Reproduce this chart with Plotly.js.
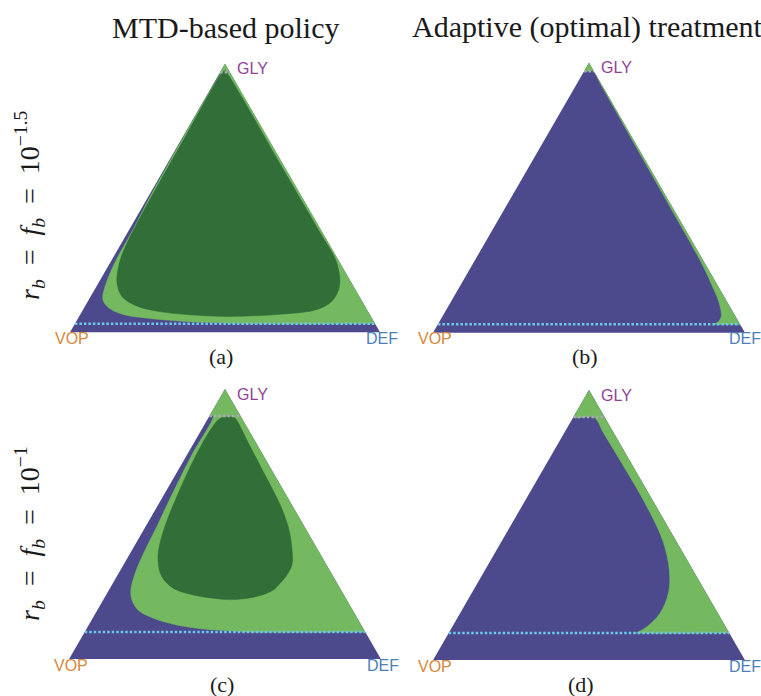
<!DOCTYPE html>
<html>
<head>
<meta charset="utf-8">
<script src="https://cdn.plot.ly/plotly-3.0.1.min.js"></script>
<style>html,body{margin:0;padding:0;background:#fff;}#chart{width:761px;height:696px;}</style>
</head>
<body>
<div id="chart"></div>
<script>
// ---- data: region boundaries as (GLY fraction, DEF fraction); VOP = remainder ----
const thresholds = [0.0316, 0.1];           // r_b = f_b = 10^-1.5 and 10^-1
const rowLabels = ["10<sup>\u22121.5</sup>", "10<sup>\u22121</sup>"];
const colTitles = ["MTD-based policy", "Adaptive (optimal) treatment"];
const panelTags = ["(a)", "(b)", "(c)", "(d)"];
const cornerNames = ["GLY", "VOP", "DEF"];

// panel (a): MTD, 10^-1.5
const aLightGLY = [1, 0.968, 0.968, 0.9, 0.7, 0.5, 0.381, 0.259, 0.17, 0.122, 0.093, 0.067, 0.052, 0.041, 0.035, 0.0316, 0.0316, 0.0316, 0.045, 1];
const aLightDEF = [0, 0, 0.002, 0.002, 0.003, 0.006, 0.012, 0.015, 0.028, 0.045, 0.076, 0.135, 0.226, 0.341, 0.45, 0.55, 0.955, 0.9684, 0.955, 0];
const aDarkGLY = [0.059, 0.0667, 0.085, 0.115, 0.17, 0.259, 0.381, 0.616, 0.863, 0.96, 0.975, 0.955, 0.9, 0.76, 0.59, 0.44, 0.33, 0.28, 0.233, 0.185, 0.133, 0.096, 0.074, 0.063, 0.059];
const aDarkDEF = [0.486, 0.643, 0.755, 0.787, 0.784, 0.731, 0.611, 0.375, 0.129, 0.03, 0.013, 0.006, 0.005, 0.007, 0.009, 0.012, 0.018, 0.025, 0.038, 0.059, 0.101, 0.171, 0.269, 0.381, 0.486];

// panel (b): adaptive, 10^-1.5
const bLightGLY = [1, 0.968, 0.968, 0.92, 0.7, 0.49, 0.245, 0.16, 0.122, 0.085, 0.062, 0.045, 0.036, 0.0316, 0.0316, 0.0316, 0.045, 1];
const bLightDEF = [0, 0, 0.029, 0.077, 0.295, 0.503, 0.744, 0.82, 0.853, 0.88, 0.893, 0.895, 0.889, 0.883, 0.955, 0.9684, 0.955, 0];

// panel (c): MTD, 10^-1
const cLightGLY = [1, 0.9, 0.9, 0.75, 0.589, 0.49, 0.391, 0.317, 0.256, 0.219, 0.181, 0.151, 0.126, 0.111, 0.104, 0.1, 0.1, 0.1, 0.115, 1];
const cLightDEF = [0, 0, 0.012, 0.016, 0.027, 0.036, 0.043, 0.053, 0.07, 0.092, 0.131, 0.195, 0.282, 0.375, 0.464, 0.52, 0.885, 0.9, 0.885, 0];
const cDarkGLY = [0.22, 0.225, 0.237, 0.262, 0.305, 0.354, 0.404, 0.49, 0.6, 0.75, 0.86, 0.89, 0.897, 0.893, 0.875, 0.8, 0.7, 0.6, 0.552, 0.48, 0.404, 0.35, 0.311, 0.275, 0.256, 0.233, 0.222, 0.22];
const cDarkDEF = [0.405, 0.35, 0.28, 0.203, 0.145, 0.109, 0.085, 0.062, 0.045, 0.03, 0.03, 0.038, 0.06, 0.085, 0.105, 0.175, 0.27, 0.365, 0.408, 0.465, 0.513, 0.54, 0.543, 0.535, 0.527, 0.49, 0.44, 0.405];

// panel (d): adaptive, 10^-1
const dLightGLY = [1, 0.9, 0.9, 0.88, 0.85, 0.8, 0.7, 0.58, 0.444, 0.333, 0.247, 0.173, 0.123, 0.101, 0.1, 0.1, 0.1, 0.115, 1];
const dLightDEF = [0, 0, 0.064, 0.09, 0.117, 0.168, 0.27, 0.39, 0.514, 0.591, 0.631, 0.641, 0.624, 0.602, 0.6, 0.885, 0.9, 0.885, 0];

// ---- styles ----
const BLUE = "#4c4a8c", LIGHT = "#74b860", DARK = "#316e38";
const CYAN = "#6ec8ec", GREY = "#a9a9bb";
const SERIF = "Liberation Serif, Times New Roman, serif";
const SANS = "Liberation Sans, Arial, sans-serif";

function tern(gly, def) {
  return { a: gly, b: gly.map((g, i) => 1 - g - def[i]), c: def };
}
function region(gly, def, color, sub) {
  const t = tern(gly, def);
  return { type: "scatterternary", subplot: sub, mode: "lines", a: t.a, b: t.b, c: t.c,
    fill: "toself", fillcolor: color, line: { color: color, width: 0.5, shape: "spline", smoothing: 1 },
    hoverinfo: "skip", showlegend: false };
}
function level(x, color, sub) {
  // line of constant GLY fraction, from the VOP edge to the DEF edge
  return { type: "scatterternary", subplot: sub, mode: "lines",
    a: [x, x], b: [1 - x, 0], c: [0, 1 - x],
    line: { color: color, width: 2.5, dash: "2.5px,2px" }, hoverinfo: "skip", showlegend: false };
}

const subs = ["ternary", "ternary2", "ternary3", "ternary4"];
const traces = [
  region(aLightGLY, aLightDEF, LIGHT, subs[0]),
  region(aDarkGLY, aDarkDEF, DARK, subs[0]),
  region(bLightGLY, bLightDEF, LIGHT, subs[1]),
  region(cLightGLY, cLightDEF, LIGHT, subs[2]),
  region(cDarkGLY, cDarkDEF, DARK, subs[2]),
  region(dLightGLY, dLightDEF, LIGHT, subs[3])
];
subs.forEach((s, i) => {
  const x = thresholds[Math.floor(i / 2)];
  traces.push(level(x, CYAN, s));
  traces.push(level(1 - x, GREY, s));
});

const W = 761, H = 696;
function px(x) { return x / W; }
function py(y) { return 1 - y / H; }
const hiddenAxis = { showgrid: false, showticklabels: false, showline: false, ticks: "", title: { text: "" }, linewidth: 0 };
function ternLayout(x0, x1, y0, y1) {
  return { domain: { x: [px(x0), px(x1)], y: [py(y1), py(y0)] }, bgcolor: BLUE, sum: 1,
    aaxis: hiddenAxis, baxis: hiddenAxis, caxis: hiddenAxis };
}

const boxes = [[70, 380, 63, 333], [433, 745, 62.5, 333], [69, 381, 389, 659], [433, 745, 390, 660]];
const annotations = [];
function ann(text, x, y, opts) {
  annotations.push(Object.assign({ text: text, x: px(x), y: py(y), xref: "paper", yref: "paper",
    showarrow: false, xanchor: "center", yanchor: "middle" }, opts));
}
ann(colTitles[0], 225, 27, { font: { family: SERIF, size: 30, color: "#1a1a1a" } });
ann(colTitles[1], 410, 27, { xanchor: "left", font: { family: SERIF, size: 30, color: "#1a1a1a" } });
[205, 534].forEach((y, i) => {
  ann("<i>r<sub>b</sub></i>\u2002=\u2002<i>f<sub>b</sub></i>\u2002=\u2002" + rowLabels[i], 29, y,
    { textangle: -90, font: { family: SERIF, size: 28, color: "#1a1a1a" } });
});
const tagPos = [[221, 356], [585, 356], [222, 684], [581, 684]];
tagPos.forEach((p, i) => ann(panelTags[i], p[0], p[1], { font: { family: SERIF, size: 22, color: "#1a1a1a" } }));

const cornerColors = ["#933f96", "#d5883b", "#4b7fba"];
boxes.forEach((b, i) => {
  const top = b[2] + 5, bot = b[3] + 6;
  const defX = Math.min(b[1] - 16, W - 34);
  ann(cornerNames[0], b[0] + (b[1] - b[0]) / 2 + 10, top, { xanchor: "left", font: { family: SANS, size: 16, color: cornerColors[0] } });
  ann(cornerNames[1], b[0] - 17, bot, { xanchor: "left", font: { family: SANS, size: 16, color: cornerColors[1] } });
  ann(cornerNames[2], defX, bot, { xanchor: "left", font: { family: SANS, size: 16, color: cornerColors[2] } });
});

const layout = {
  width: W, height: H, margin: { l: 0, r: 0, t: 0, b: 0 },
  paper_bgcolor: "#ffffff", showlegend: false, hovermode: false,
  ternary: ternLayout(...boxes[0]), ternary2: ternLayout(...boxes[1]),
  ternary3: ternLayout(...boxes[2]), ternary4: ternLayout(...boxes[3]),
  annotations: annotations
};
Plotly.newPlot("chart", traces, layout, { staticPlot: true, displayModeBar: false });
</script>
</body>
</html>
